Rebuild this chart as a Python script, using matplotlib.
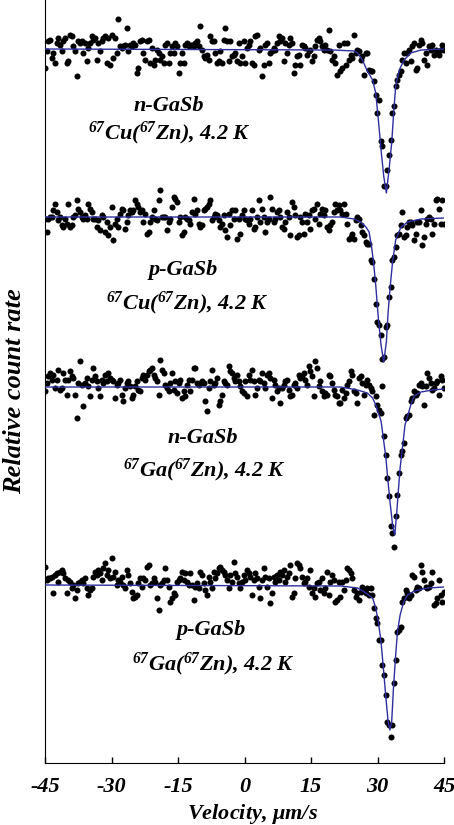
import numpy as np
import matplotlib
matplotlib.use('Agg')
import matplotlib.pyplot as plt

# Spektrum Mossbauer 67Zn, 240 kanal kecepatan (-45 .. 45 um/s)
# nilai = laju cacah relatif x 10^4
spek_1 = [
    9981, 9998, 10008, 10009, 9991, 9996, 9986, 10006, 10011, 10004,
    9998, 10008, 10011, 9986, 9988, 10014, 10013, 10003, 9998, 9973,
    10008, 10006, 10008, 9996, 10006, 9988, 10001, 10006, 10013, 10009,
    10011, 9989, 10006, 9998, 10008, 10011, 10013, 9986, 10011, 9984,
    10014, 9991, 10011, 9996, 10030, 10003, 10001, 10003, 10004, 10021,
    9998, 10004, 10003, 10006, 10004, 9976, 9981, 10008, 10009, 9996,
    9989, 10008, 10009, 9986, 10001, 9984, 9989, 9999, 9996, 9989,
    9993, 9986, 10004, 10006, 9986, 9996, 10003, 9996, 10006, 10003,
    9976, 9986, 9996, 9986, 10004, 10006, 10003, 10004, 10004, 10003,
    10006, 10008, 10003, 10023, 9999, 9993, 9991, 9994, 9989, 10013,
    10008, 10008, 9996, 9986, 9988, 9998, 9986, 10009, 10021, 10008,
    9988, 10008, 9993, 9994, 9996, 9988, 10006, 9986, 9993, 10008,
    9986, 10001, 10004, 10008, 9986, 9984, 10013, 10014, 9999, 10001,
    9973, 9984, 10004, 10006, 9986, 9996, 9998, 10001, 9999, 10006,
    10013, 10008, 10011, 9988, 10006, 9996, 10004, 10011, 10006, 9976,
    9984, 9993, 9994, 9984, 10004, 10003, 10001, 9994, 9998, 9999,
    9988, 9993, 10003, 10009, 10011, 10008, 10003, 9999, 10004, 9999,
    10019, 9998, 9989, 9993, 9986, 9974, 10004, 9978, 9981, 10006,
    9984, 10006, 9989, 9994, 9991, 10014, 9996, 9999, 9998, 9989,
    9993, 9974, 9996, 9996, 9979, 9978, 9978, 9968, 9954, 9936,
    9949, 9908, 9903, 9863, 9863, 9879, 9894, 9909, 9936, 9943,
    9963, 9969, 9974, 9978, 9989, 9996, 9986, 9996, 9999, 9988,
    10003, 10006, 9979, 9981, 10004, 10009, 10006, 9989, 9996, 9984,
    10003, 9999, 10004, 9994, 9999, 9996, 9994, 9999, 10004, 9999,
]
spek_2 = [
    9998, 9985, 9998, 10000, 10000, 10007, 10013, 10005, 9997, 10000,
    9992, 9990, 9998, 9993, 10013, 9990, 9992, 10000, 10002, 10017,
    10008, 10005, 10000, 9998, 10002, 9998, 10013, 10008, 10005, 9998,
    9998, 9990, 9997, 9987, 10002, 10000, 9985, 9995, 9982, 9990,
    10010, 9977, 9993, 9998, 9990, 10003, 10008, 10007, 9988, 9995,
    10002, 10007, 10005, 10007, 10017, 10013, 10010, 10005, 10007, 9995,
    10003, 9983, 9985, 9995, 10000, 10007, 9998, 9997, 10017, 10027,
    10000, 10000, 10000, 9987, 9995, 9998, 10010, 10020, 10018, 10015,
    9995, 10000, 9982, 9985, 10000, 9998, 9997, 9993, 10005, 10018,
    10003, 10007, 9993, 9990, 9992, 10007, 10008, 10010, 10013, 10017,
    9997, 10000, 10003, 10002, 9997, 9990, 9993, 10002, 9987, 9980,
    10003, 9992, 10007, 9998, 10007, 9978, 9998, 9983, 10002, 10007,
    9998, 9997, 9993, 9998, 10007, 9988, 9990, 10000, 10017, 9995,
    10008, 10000, 9985, 9995, 9998, 10020, 10008, 9995, 9998, 10005,
    10007, 10000, 9990, 9988, 9995, 10005, 10000, 9982, 10015, 10010,
    10002, 9980, 9982, 10000, 9995, 9983, 10003, 9995, 10002, 9988,
    10007, 10008, 9998, 10013, 9993, 10003, 10008, 10002, 10007, 9990,
    9987, 9992, 9995, 10005, 10013, 10007, 10012, 10007, 10003, 10013,
    10003, 9993, 9978, 9980, 9983, 9978, 9997, 10000, 9998, 9992,
    9985, 9982, 9975, 9973, 9973, 9957, 9955, 9938, 9913, 9895,
    9892, 9882, 9858, 9860, 9890, 9892, 9920, 9930, 9957, 9960,
    9970, 9982, 9983, 9992, 10005, 9980, 9982, 9990, 9995, 9995,
    9992, 9977, 9983, 9995, 9995, 10007, 9972, 9980, 9993, 9998,
    10000, 9998, 9983, 9993, 10017, 10018, 10008, 9993, 10017, 9993,
]
spek_3 = [
    9996, 10004, 10011, 10014, 10007, 10012, 9999, 10007, 10017, 9997,
    9999, 10014, 10007, 9992, 10007, 10016, 10011, 10009, 9992, 9969,
    10004, 10026, 10002, 9981, 10004, 10009, 10001, 9991, 10007, 10019,
    10011, 10006, 9999, 9991, 10007, 10004, 10012, 10006, 10014, 10009,
    10007, 10006, 9989, 10002, 10004, 10007, 9992, 9986, 9999, 10004,
    10006, 10001, 9989, 9992, 10001, 10006, 9997, 9996, 10009, 10012,
    10007, 10012, 10016, 10017, 10019, 10012, 10009, 10006, 9992, 10027,
    10017, 10014, 10002, 9999, 9996, 10004, 10014, 9997, 10006, 9994,
    10004, 10007, 9989, 9996, 9991, 10002, 10007, 9996, 10007, 10019,
    10019, 10004, 10002, 10004, 10006, 10004, 9986, 9976, 9999, 10006,
    10017, 10002, 10004, 10009, 9982, 9986, 9992, 10006, 10004, 10002,
    10021, 10016, 10014, 10009, 10006, 10012, 10006, 10001, 9996, 9994,
    10006, 9991, 10012, 10007, 10017, 10006, 9992, 9999, 10007, 10006,
    10014, 10004, 9999, 10012, 10014, 10009, 9989, 10007, 10002, 9996,
    9999, 9984, 9999, 10002, 10006, 10007, 9997, 9991, 9992, 10002,
    10004, 9999, 10012, 10009, 10011, 10014, 10007, 10002, 10021, 10016,
    10011, 9991, 10026, 10019, 10001, 10006, 9996, 9991, 9994, 9992,
    10012, 10011, 10004, 9997, 9992, 9991, 9984, 9984, 9997, 9989,
    9994, 10002, 10006, 10016, 10012, 9996, 9994, 9984, 10009, 10011,
    10004, 9992, 10002, 10007, 10002, 9999, 9996, 9972, 9991, 9982,
    9977, 9974, 10001, 9951, 9932, 9909, 9891, 9861, 9854, 9840,
    9871, 9892, 9914, 9932, 9936, 9944, 9969, 9971, 9972, 9986,
    9989, 9996, 9992, 9994, 10002, 10004, 10001, 9982, 10001, 10014,
    10009, 10004, 9997, 9999, 10004, 10006, 9992, 10011, 10007, 9999,
]
spek_4 = [
    10018, 10005, 10007, 10007, 10008, 9992, 10010, 10012, 10003, 10013,
    10015, 10012, 10007, 9992, 10005, 10003, 9997, 10000, 9987, 9995,
    10002, 10003, 10005, 10002, 10007, 9997, 9990, 9995, 9997, 10008,
    10013, 10010, 10015, 10012, 10005, 10017, 10022, 10010, 10015, 10007,
    10027, 10008, 10013, 10000, 10005, 10003, 10008, 10000, 9997, 10015,
    10010, 10002, 9993, 9987, 9988, 9990, 10002, 10007, 9998, 10007,
    10005, 10018, 10020, 10000, 10002, 10007, 10003, 9987, 9975, 10000,
    10002, 10005, 10017, 10005, 9998, 9983, 9987, 9992, 9990, 10003,
    10005, 10007, 10013, 10005, 10012, 10003, 10000, 10012, 10000, 9985,
    9998, 10002, 9997, 10013, 10010, 10002, 9995, 9990, 10008, 10003,
    9997, 10013, 10007, 10012, 10017, 10018, 10015, 10013, 10010, 10005,
    9997, 10010, 10003, 10023, 10012, 10008, 10002, 9997, 10003, 10010,
    10005, 10015, 10012, 10008, 9990, 10005, 10012, 10007, 9998, 9987,
    10005, 10017, 10008, 9998, 10007, 9982, 9992, 10008, 10003, 10010,
    10005, 10013, 10010, 10015, 10003, 10008, 10012, 10020, 9988, 9992,
    10007, 10022, 10020, 10017, 10008, 10002, 10003, 10007, 9998, 10015,
    9992, 9997, 9988, 10002, 10003, 9995, 10007, 9992, 9997, 10013,
    9990, 10003, 10010, 10005, 9983, 9985, 10003, 9988, 10003, 9995,
    10005, 10017, 10015, 10012, 10007, 9995, 9988, 9992, 9985, 9993,
    9998, 9995, 9992, 9997, 9990, 9997, 9990, 9977, 9967, 9962,
    9945, 9945, 9920, 9910, 9890, 9863, 9860, 9848, 9860, 9902,
    9925, 9953, 9955, 9958, 9983, 9987, 9995, 9992, 9987, 9990,
    10010, 10008, 9995, 9998, 9997, 10020, 10013, 10005, 9998, 9997,
    9998, 10002, 10013, 9980, 9982, 9987, 10005, 9990, 9983, 9993,
]

# Kurva fit (titik): kecepatan dan nilai
fit_v_1 = [-45, 20, 24.7, 25.5, 26.6, 27.7, 28.9, 29.6, 30.2, 30.8, 31.4, 32.0,
           32.6, 33.2, 33.6, 34.1, 34.9, 36.0, 37.5, 39.8, 45]
fit_y_1 = [10000, 9999, 9998, 9996, 9989, 9978, 9969, 9956, 9929, 9899, 9873, 9856,
           9879, 9906, 9933, 9963, 9979, 9989, 9996, 9999, 10000]
fit_v_2 = [-45, 21.7, 24.7, 26.2, 27.4, 28.1, 28.6, 29.1, 29.6, 30.2, 30.8, 31.4,
           32.0, 32.4, 32.9, 33.4, 34.1, 35.3, 36.8, 39.8, 45]
fit_y_2 = [10000, 10000, 9998, 9995, 9990, 9985, 9972, 9955, 9932, 9898, 9872, 9855,
           9875, 9905, 9932, 9955, 9977, 9990, 9995, 9998, 9999]
fit_v_3 = [-45, 21.7, 25.5, 27.7, 28.9, 29.6, 30.2, 30.8, 31.4, 31.9, 32.3, 32.8,
           33.4, 33.9, 34.3, 34.7, 35.1, 35.7, 36.2, 36.8, 37.5, 38.3, 39.8, 42.4, 45]
fit_y_3 = [10000, 10000, 9997, 9994, 9989, 9982, 9974, 9966, 9946, 9929, 9909, 9886,
           9862, 9852, 9872, 9896, 9919, 9942, 9962, 9971, 9982, 9991, 9995, 9997, 9998]
fit_v_4 = [-45, 21.7, 25.5, 27.4, 28.9, 29.6, 30.2, 30.8, 31.4, 31.9, 32.4, 32.8,
           33.2, 33.6, 34.1, 34.5, 35.1, 35.9, 36.8, 38.3, 41.3, 45]
fit_y_4 = [10000, 9999, 9997, 9992, 9987, 9977, 9963, 9943, 9913, 9887, 9863, 9855,
           9863, 9897, 9930, 9953, 9970, 9983, 9990, 9994, 9997, 9998]

sampel = ['n-GaSb', 'p-GaSb', 'n-GaSb', 'p-GaSb']
sumber = [r'$^{67}$Cu($^{67}$Zn), 4.2 K', r'$^{67}$Cu($^{67}$Zn), 4.2 K',
          r'$^{67}$Ga($^{67}$Zn), 4.2 K', r'$^{67}$Ga($^{67}$Zn), 4.2 K']
xticks = [-45, -30, -15, 0, 15, 30, 45]

# Pengaturan tampilan
plt.rcParams['font.family'] = 'Liberation Serif'
plt.rcParams['font.weight'] = 'bold'
plt.rcParams['font.style'] = 'italic'
plt.rcParams['axes.labelweight'] = 'bold'
plt.rcParams['mathtext.fontset'] = 'custom'
plt.rcParams['mathtext.rm'] = 'Liberation Serif:bold:italic'
plt.rcParams['mathtext.it'] = 'Liberation Serif:bold:italic'
plt.rcParams['mathtext.bf'] = 'Liberation Serif:bold:italic'
plt.rcParams['axes.unicode_minus'] = False

fig = plt.figure(figsize=(4.54, 8.25), dpi=100)
ax = fig.add_axes([45 / 454, 62 / 825, 399 / 454, 763 / 825])

spektrum = [spek_1, spek_2, spek_3, spek_4]
fit_v = [fit_v_1, fit_v_2, fit_v_3, fit_v_4]
fit_y = [fit_y_1, fit_y_2, fit_y_3, fit_y_4]
geser = [536, 368, 198, 0]          # pergeseran vertikal tiap spektrum
# posisi label: (x baris 1, y baris 1, x baris 2, y baris 2)
pos_label = [(-17, 479, -17, 452), (-13.8, 315, -12.8, 282),
             (-9.5, 147, -9.0, 115), (-7.5, -45, -7.0, -79)]

for data, fv, fy, g, nama, src, pl in zip(spektrum, fit_v, fit_y, geser, sampel, sumber, pos_label):
    y = np.array(data) - 10000 + g
    v = np.linspace(-45, 45, len(data))
    ax.scatter(v, y, s=19, color='black', linewidths=0, zorder=2)
    ax.plot(fv, np.array(fy) - 10000 + g, color='#2e2ea0', linewidth=1.0, zorder=3)
    ax.text(pl[0], pl[1], nama, ha='center', va='center', fontsize=16)
    ax.text(pl[2], pl[3], src, ha='center', va='center', fontsize=16)

ax.set_xlim(-45, 45)
ax.set_ylim(-178, 585)
ax.set_xticks(xticks)
ax.set_xticklabels([str(t) for t in xticks], fontsize=16)
ax.set_yticks([])
ax.tick_params(axis='x', direction='in', length=4, width=1, pad=10)
ax.spines['top'].set_visible(False)
ax.spines['right'].set_visible(False)
ax.set_xlabel(r'Velocity, $\mu$m/s', fontsize=16)
ax.xaxis.set_label_coords(0.519, -0.051)
ax.set_ylabel('Relative count rate', fontsize=19)
ax.yaxis.set_label_coords(-0.047, 0.487)

fig.savefig('out.png', dpi=100)
